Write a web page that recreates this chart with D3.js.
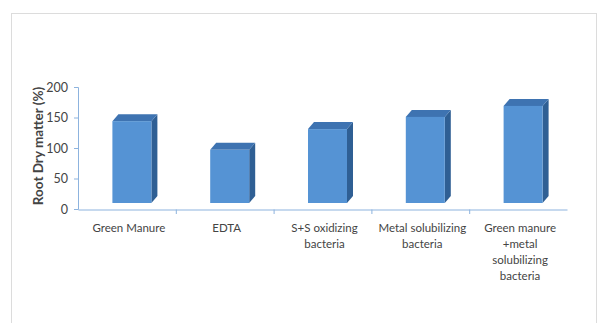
<!DOCTYPE html>
<html>
<head>
<meta charset="utf-8">
<script src="https://cdn.jsdelivr.net/npm/d3@7"></script>
<style>
  body { margin: 0; background: #fff; }
  svg text { font-family: Lato, "Open Sans", sans-serif; fill: #444; }
</style>
</head>
<body>
<div id="bar_chart"></div>
<script>
// data
const categories = ["Green Manure", "EDTA", "S+S oxidizing bacteria", "Metal solubilizing bacteria", "Green manure +metal solubilizing bacteria"];
const labelLines = [["Green Manure"], ["EDTA"], ["S+S oxidizing", "bacteria"], ["Metal solubilizing", "bacteria"], ["Green manure", "+metal", "solubilizing", "bacteria"]];
const values = [144, 97, 131, 151, 169];
const yTicks = [0, 50, 100, 150, 200];

const W = 597, H = 323;
const svg = d3.select("#bar_chart")
    .append("svg")
    .attr("width", W)
    .attr("height", H);

// faint outer frame
svg.append("rect")
    .attr("x", 11.5).attr("y", 13.5)
    .attr("width", 585).attr("height", 320)
    .attr("fill", "none")
    .attr("stroke", "#dcdcdc");

const x = d3.scaleBand()
    .domain(categories)
    .range([78, 567]);

const y = d3.scaleLinear()
    .domain([0, 200])
    .range([209, 87]);

// y axis
const yAxis = svg.append("g")
    .attr("transform", "translate(78,0)")
    .call(d3.axisLeft(y).tickValues(yTicks).tickSize(4).tickPadding(6));
yAxis.select(".domain").attr("stroke", "#8db3de");
yAxis.selectAll(".tick line").attr("stroke", "#8db3de");
yAxis.selectAll(".tick text")
    .style("font-size", "12.5px")
    .attr("fill", "#444");

// x axis
const xAxis = svg.append("g")
    .attr("transform", "translate(0,209.5)")
    .call(d3.axisBottom(x).tickSize(0).tickFormat(""));
xAxis.select(".domain").attr("stroke", "#8db3de");
// separators between categories
svg.selectAll("sep")
    .data(categories.slice(1))
    .join("line")
    .attr("x1", d => x(d) + 0.5)
    .attr("x2", d => x(d) + 0.5)
    .attr("y1", 209.5)
    .attr("y2", 214)
    .attr("stroke", "#8db3de");

// 3D bars
const bw = 39, dx = 6, dy = 7, lift = 6;
const bars = svg.selectAll("bar")
    .data(values)
    .join("g");

bars.each(function(v, i) {
    const g = d3.select(this);
    const x0 = x(categories[i]) + x.bandwidth() / 2 - 14.5;
    const yTop = y(v);
    const yBot = y(0) - lift;
    // side
    g.append("path")
        .attr("d", `M${x0 + bw},${yTop} L${x0 + bw + dx},${yTop - dy} L${x0 + bw + dx},${yBot - dy} L${x0 + bw},${yBot} Z`)
        .attr("fill", "#2f5f94");
    // top
    g.append("path")
        .attr("d", `M${x0},${yTop} L${x0 + dx},${yTop - dy} L${x0 + bw + dx},${yTop - dy} L${x0 + bw},${yTop} Z`)
        .attr("fill", "#3e73b1");
    // front
    g.append("rect")
        .attr("x", x0)
        .attr("y", yTop)
        .attr("width", bw)
        .attr("height", yBot - yTop)
        .attr("fill", "#5593d4");
});

// category labels
svg.selectAll("catlabel")
    .data(labelLines)
    .join("text")
    .attr("text-anchor", "middle")
    .style("font-size", "11.5px")
    .attr("fill", "#555")
    .attr("x", (d, i) => x(categories[i]) + x.bandwidth() / 2 + 2)
    .attr("y", 232)
    .each(function(lines) {
        const t = d3.select(this);
        lines.forEach((s, k) => {
            t.append("tspan")
                .attr("x", t.attr("x"))
                .attr("dy", k === 0 ? 0 : 16)
                .text(s);
        });
    });

// y axis title
svg.append("text")
    .attr("transform", "translate(43,146) rotate(-90)")
    .attr("text-anchor", "middle")
    .style("font-size", "13.5px")
    .style("font-weight", "bold")
    .text("Root Dry matter (%)");
</script>
</body>
</html>
